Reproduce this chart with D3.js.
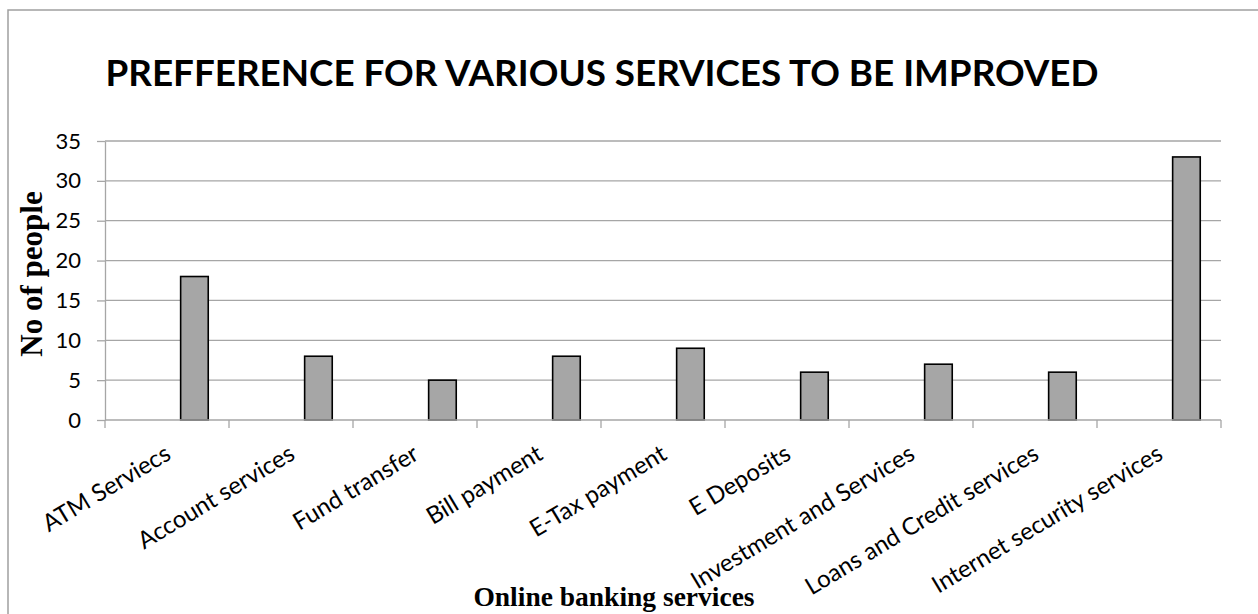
<!DOCTYPE html>
<html>
<head>
<meta charset="utf-8">
<script src="https://cdn.jsdelivr.net/npm/d3@7"></script>
<style>
  html, body { margin: 0; padding: 0; background: #fff; }
  svg { display: block; }
</style>
</head>
<body>
<svg id="chart" width="1258" height="614"></svg>
<script>
// Survey: which online banking services respondents want improved
const categories = [
  "ATM Serviecs",
  "Account services",
  "Fund transfer",
  "Bill payment",
  "E-Tax payment",
  "E Deposits",
  "Investment and Services",
  "Loans and Credit services",
  "Internet security services"
];
const peopleCounts = [18, 8, 5, 8, 9, 6, 7, 6, 33];
const yTicks = [0, 5, 10, 15, 20, 25, 30, 35];

const chartTitle = "PREFFERENCE FOR VARIOUS SERVICES TO BE IMPROVED";
const xTitle = "Online banking services";
const yTitle = "No of people";

const svg = d3.select("#chart");
const W = 1258, H = 614;
const plot = { left: 105, right: 1221, top: 141, bottom: 420 };
const gridColor = "#a6a6a6";
const labelFont = "Lato, 'Open Sans', sans-serif";

// outer chart frame (top and left edges visible)
svg.append("path")
  .attr("d", `M8,${H} V10 H${W}`)
  .attr("fill", "none")
  .attr("stroke", "#a0a0a0")
  .attr("stroke-width", 1.5);

const x = d3.scaleBand()
  .domain(categories)
  .range([plot.left, plot.right])
  .paddingInner(0)
  .paddingOuter(0);

const y = d3.scaleLinear()
  .domain([0, 35])
  .range([plot.bottom, plot.top]);

// horizontal gridlines
svg.append("g")
  .selectAll("line")
  .data(yTicks.filter(d => d > 0))
  .join("line")
  .attr("x1", plot.left)
  .attr("x2", plot.right)
  .attr("y1", d => y(d))
  .attr("y2", d => y(d))
  .attr("stroke", gridColor)
  .attr("stroke-width", 1.3);

// y axis
const yAxis = svg.append("g")
  .attr("transform", `translate(${plot.left},0)`)
  .call(d3.axisLeft(y).tickValues(yTicks).tickSize(8).tickPadding(16).tickSizeOuter(0));
yAxis.select(".domain").attr("stroke", gridColor).attr("stroke-width", 1.3);
yAxis.selectAll(".tick line").attr("stroke", gridColor).attr("stroke-width", 1.3);
yAxis.selectAll(".tick text")
  .attr("font-family", labelFont)
  .attr("font-size", 22)
  .attr("fill", "#000");

// bars, drawn in the right part of each category slot
const barOffset = 0.61, barWidth = 0.2226;
svg.append("g")
  .selectAll("rect")
  .data(categories.map((c, i) => ({ c, v: peopleCounts[i] })))
  .join("rect")
  .attr("x", d => x(d.c) + x.bandwidth() * barOffset)
  .attr("width", x.bandwidth() * barWidth)
  .attr("y", d => y(d.v))
  .attr("height", d => y(0) - y(d.v))
  .attr("fill", "#a6a6a6")
  .attr("stroke", "#000")
  .attr("stroke-width", 1.6);

// x axis with boundary ticks between categories
const xAxis = svg.append("g")
  .attr("transform", `translate(0,${plot.bottom})`);
xAxis.append("line")
  .attr("x1", plot.left).attr("x2", plot.right)
  .attr("stroke", gridColor).attr("stroke-width", 1.3);
const boundaries = categories.map(c => x(c)).concat([x.range()[1]]);
xAxis.selectAll("line.tick")
  .data(boundaries)
  .join("line")
  .attr("class", "tick")
  .attr("x1", d => d).attr("x2", d => d)
  .attr("y1", 0).attr("y2", 8)
  .attr("stroke", gridColor).attr("stroke-width", 1.3);

// rotated category labels, right end anchored at slot centre
xAxis.selectAll("text")
  .data(categories)
  .join("text")
  .attr("transform", d => `translate(${x(d) + x.bandwidth() / 2 + 1},${31}) rotate(-31)`)
  .attr("text-anchor", "end")
  .attr("dy", "0.35em")
  .attr("font-family", labelFont)
  .attr("font-size", 24)
  .attr("fill", "#000")
  .text(d => d);

// chart title
svg.append("text")
  .attr("x", 602)
  .attr("y", 86)
  .attr("text-anchor", "middle")
  .attr("font-family", labelFont)
  .attr("font-weight", 700)
  .attr("font-size", 36.8)
  .attr("fill", "#000")
  .text(chartTitle);

// axis titles
svg.append("text")
  .attr("transform", `translate(42,274) rotate(-90)`)
  .attr("text-anchor", "middle")
  .attr("font-family", "'Liberation Serif', 'Times New Roman', serif")
  .attr("font-weight", 700)
  .attr("font-size", 31)
  .attr("fill", "#000")
  .text(yTitle);

svg.append("text")
  .attr("x", 614)
  .attr("y", 606)
  .attr("text-anchor", "middle")
  .attr("font-family", "'Liberation Serif', 'Times New Roman', serif")
  .attr("font-weight", 700)
  .attr("font-size", 27.5)
  .attr("fill", "#000")
  .text(xTitle);
</script>
</body>
</html>
